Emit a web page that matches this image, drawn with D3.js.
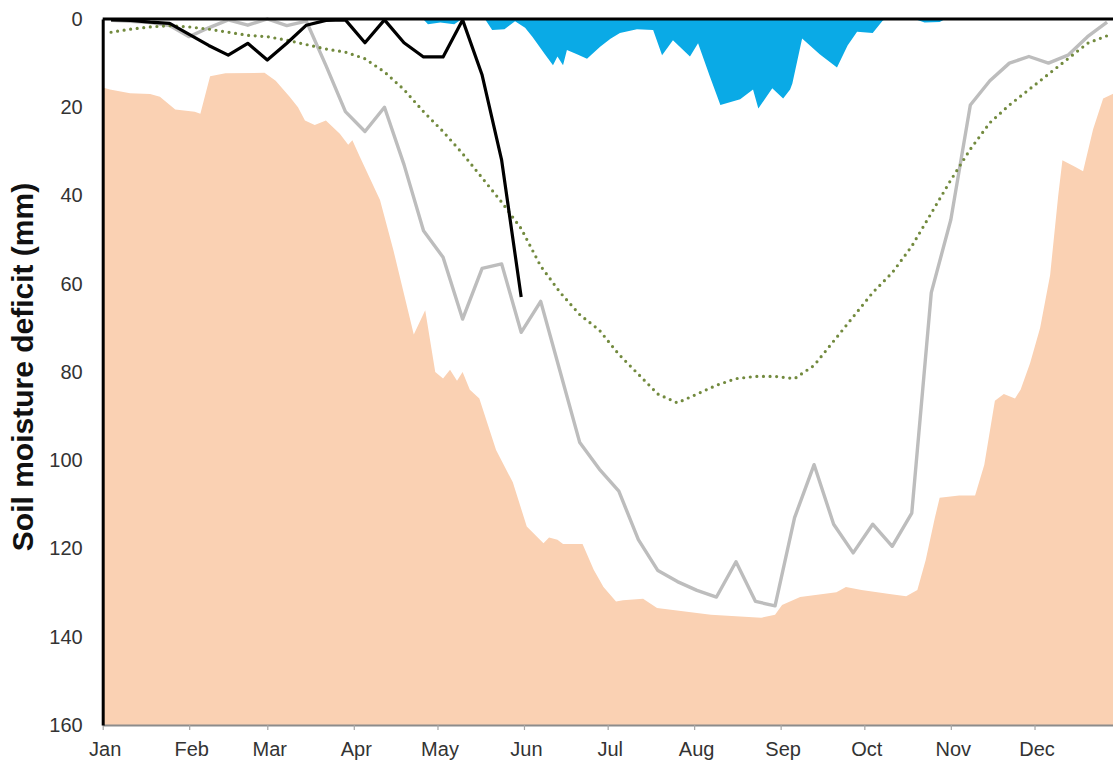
<!DOCTYPE html>
<html>
<head>
<meta charset="utf-8">
<script src="https://cdn.jsdelivr.net/npm/d3@7"></script>
<style>
  html, body { margin: 0; padding: 0; background: #fff; }
  svg { display: block; }
  text { font-family: "Liberation Sans", Arial, sans-serif; }
</style>
</head>
<body>
<script>
// Month labels and their first day-of-year
const months = ["Jan","Feb","Mar","Apr","May","Jun","Jul","Aug","Sep","Oct","Nov","Dec"];
const monthStartDays = [0,31,59,90,120,151,181,212,243,273,304,334];
const yTicks = [0,20,40,60,80,100,120,140,160];

// Weekly sample days (day of year)
const weekDays = d3.range(52).map(k => 3 + 7 * k);

// Maximum deficit on record (day, mm)
const maxDeficit = [
  [0,15.5],[2.6,16],[9.8,16.8],[17,17],[20.5,17.6],[26,20.5],[33,21],[35,21.5],[38.5,13],[44,12.3],
  [58,12.2],[62,14],[67,17.6],[70,20],[72.5,23],[76,24],[80,23],[85,26],[88,28.5],[89.5,27.5],
  [92,31],[99.4,41],[104.2,52.4],[111.5,71.5],[115.6,66],[119.2,80],[122,81.5],[124.5,79.5],[127,82],[129,80],
  [131.6,84],[135,86],[141,97.7],[147,105],[152,115],[158,118.8],[160,117.5],[163,118],[165,119],[172,119],
  [176,124.8],[179.5,128.7],[184,132],[186.5,131.7],[193.7,131.4],[198.7,133.5],[218,135],[236,135.7],[241,135],[243.5,132.8],
  [250,131],[263,129.9],[266.4,128.7],[272,129.4],[282,130.3],[288,130.8],[292,129.4],[295,122.6],[298.3,113],[300,108.5],
  [307,108],[312.7,108],[316,101],[319.8,86.5],[323,85],[327,86],[329,84],[332.4,78],[336,70],[339.6,58],
  [342.5,40],[344,32],[348.5,33.5],[351.4,34.5],[355,25],[358.6,18],[362,17],[365,16]
];

// Minimum deficit on record (day, mm)
const minDeficit = [
  [0,0],[114.8,0],[116.6,1.2],[121,0.8],[126,1.2],[128.8,0],[137,0],[139.6,2.5],[144,2.3],[147.8,0.5],
  [151.4,2],[154,4],[158.5,8],[161.4,10.5],[163,8.5],[165,10.5],[166.4,7],[170,8],[173.6,9],[178.3,6.3],
  [182,4.5],[185.4,3.2],[191.5,2.3],[197.3,2.5],[200.5,8.2],[204.4,4.8],[210.5,8.5],[213.4,5.5],[217.6,13],[221.4,19.5],
  [228.5,18.2],[233.1,16],[235,20.3],[240,15.7],[243.9,18],[246.4,16],[247.2,14.6],[250.7,4.4],[257,8],[263.2,11],
  [267,6],[270.4,2.9],[276,3.2],[279.7,0.3],[282,0],[291,0],[294.6,0.8],[300,0.7],[302,0],[365,0]
];

// Previous year, weekly (mm)
const lastYear = [0.3,0.5,0.8,1.5,4,2,0.2,1.4,0,1.5,0.5,10.5,21,25.5,20,33,48,54,68,56.5,
  55.5,71,64,80,96,102,107,118,125,127.5,129.5,131,123,132,133,113,101,114.5,121,114.5,
  119.5,112,62,45.5,19.5,14,10,8.5,10,8.2,4,0.7];

// Long-term average, weekly (mm)
const average = [3,2.3,1.8,1.5,1.8,2.3,3,3.7,4,4.8,5.8,6.8,7.5,9,12,16,21,25.5,30.5,36,
  41.5,47.5,56,62,67,70.5,76,80.5,85,87,85,83,81.5,81,81,81.5,78.5,73,67.5,62,
  57.5,51.5,44,36.5,29.5,23.5,19.5,16,12.5,9,5.5,3.8];

// Current year so far, weekly (mm)
const thisYear = [0.2,0.3,0.7,1,3.5,6,8.2,5.5,9.3,5.5,1.4,0.3,0.2,5.4,0.2,5.4,8.6,8.6,0.2,12.7,32,63];

const W = 1113, H = 772;
const svg = d3.select("body").append("svg").attr("width", W).attr("height", H);
svg.append("rect").attr("width", W).attr("height", H).attr("fill", "#fff");

const x = d3.scaleLinear().domain([0, 365]).range([102.7, 1121]);
const y = d3.scaleLinear().domain([0, 160]).range([19, 725]);

svg.append("clipPath").attr("id", "plot")
  .append("rect").attr("x", x(0)).attr("y", y(0) - 4).attr("width", W - x(0)).attr("height", y(160) - y(0) + 4);

const g = svg.append("g").attr("clip-path", "url(#plot)");

// Range envelope: maximum deficit filled down to the axis floor
g.append("path")
  .datum(maxDeficit)
  .attr("fill", "#fad1b3")
  .attr("d", d3.area().x(d => x(d[0])).y0(y(160)).y1(d => y(d[1])));

// Minimum deficit filled from zero
g.append("path")
  .datum(minDeficit)
  .attr("fill", "#0aaae6")
  .attr("d", d3.area().x(d => x(d[0])).y0(y(0)).y1(d => y(d[1])));

const weekly = vals => vals.map((v, i) => [weekDays[i], v]);
const line = d3.line().x(d => x(d[0])).y(d => y(d[1]));

g.append("path").datum(weekly(lastYear))
  .attr("fill", "none").attr("stroke", "#bdbdbd").attr("stroke-width", 3.4)
  .attr("stroke-linejoin", "round").attr("d", line);

g.append("path").datum(weekly(average))
  .attr("fill", "none").attr("stroke", "#728a3e").attr("stroke-width", 3.2)
  .attr("stroke-linecap", "round").attr("stroke-dasharray", "0 6.6").attr("d", line);

g.append("path").datum(weekly(thisYear))
  .attr("fill", "none").attr("stroke", "#000").attr("stroke-width", 3.2)
  .attr("stroke-linejoin", "round").attr("d", line);

// Zero line across the top
svg.append("line")
  .attr("x1", x(0)).attr("x2", W).attr("y1", y(0)).attr("y2", y(0))
  .attr("stroke", "#000").attr("stroke-width", 3);

// Bottom axis
const xAxis = svg.append("g").attr("transform", `translate(0,${y(160)})`)
  .call(d3.axisBottom(x).tickValues(monthStartDays).tickFormat((d, i) => months[i])
    .tickSizeInner(5).tickSizeOuter(0).tickPadding(12));
xAxis.select(".domain").attr("stroke", "#8c8c8c").attr("stroke-width", 2);
xAxis.selectAll(".tick line").attr("stroke", "#a6a6a6").attr("stroke-width", 1.2);
xAxis.selectAll(".tick text").attr("font-size", 20).attr("fill", "#333").attr("dx", 2);

// Left axis
const yAxis = svg.append("g").attr("transform", `translate(${x(0)},0)`)
  .call(d3.axisLeft(y).tickValues(yTicks).tickSize(0).tickPadding(20));
yAxis.select(".domain").attr("stroke", "#000").attr("stroke-width", 3);
yAxis.selectAll(".tick text").attr("font-size", 20).attr("fill", "#333");

svg.append("text")
  .attr("transform", `translate(33,${(y(0) + y(160)) / 2 - 5}) rotate(-90)`)
  .attr("text-anchor", "middle")
  .attr("font-size", 30).attr("font-weight", "bold").attr("fill", "#111")
  .text("Soil moisture deficit (mm)");
</script>
</body>
</html>
